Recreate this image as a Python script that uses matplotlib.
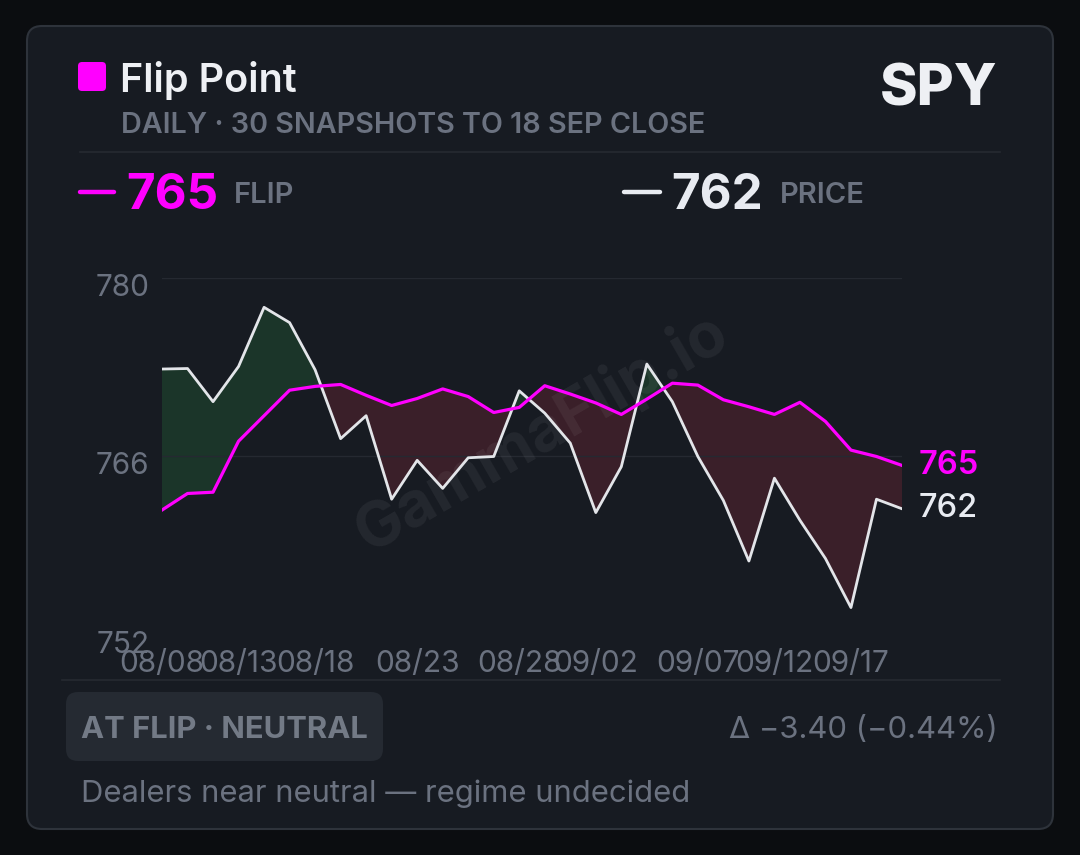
import matplotlib
matplotlib.use("Agg")
import matplotlib.pyplot as plt
import matplotlib.transforms as mtransforms
from matplotlib.patches import FancyBboxPatch
import numpy as np

plt.rcParams['font.family'] = ['Inter', 'DejaVu Sans']

# data (30 daily snapshots)
flip = [761.8, 763.1, 763.2, 767.2, 769.2, 771.2, 771.5, 771.65, 770.8, 770.0,
        770.55, 771.3, 770.7, 769.45, 769.85, 771.55, 770.9, 770.2, 769.3, 770.5,
        771.75, 771.6, 770.45, 769.9, 769.3, 770.25, 768.75, 766.5, 766.0, 765.3]
price = [772.86, 772.9, 770.3, 773.06, 777.7, 776.5, 772.8, 767.4, 769.2, 762.65,
         765.7, 763.5, 765.9, 766.0, 771.15, 769.4, 767.05, 761.6, 765.2, 773.25,
         770.3, 766.0, 762.55, 757.8, 764.3, 761.0, 758.0, 754.15, 762.65, 761.9]
tick_idx = [0, 3, 6, 10, 14, 17, 21, 24, 27]
tick_labels = ['08/08', '08/13', '08/18', '08/23', '08/28', '09/02', '09/07', '09/12', '09/17']
y_ticks = [752, 766, 780]

MAGENTA = '#ff00ff'
WHITE = '#e8ebf1'
GRAY = '#6b7280'
CARD = '#171b22'

W, H = 1080, 855
fig = plt.figure(figsize=(W / 100, H / 100), dpi=100, facecolor='#0b0d10')

# background layer in pixel coords (y down)
bg = fig.add_axes([0, 0, 1, 1], zorder=0)
bg.set_xlim(0, W)
bg.set_ylim(H, 0)
bg.axis('off')

card = FancyBboxPatch((27, 26), 1026, 803, boxstyle="round,pad=0,rounding_size=15",
                      facecolor=CARD, edgecolor='#2e333b', linewidth=1.5)
bg.add_patch(card)
bg.add_patch(FancyBboxPatch((78, 62), 28, 29, boxstyle="round,pad=0,rounding_size=4",
                            facecolor=MAGENTA, edgecolor='none'))

# header
bg.text(120, 92, 'Flip Point', color='#eef0f4', fontsize=28.5, fontweight='semibold', va='baseline')
bg.text(997, 106, 'SPY', color='#eef0f4', fontsize=41, fontweight='heavy', va='baseline', ha='right')
bg.text(121, 133, 'DAILY · 30 SNAPSHOTS TO 18 SEP CLOSE', color=GRAY, fontsize=20.7,
        fontweight='semibold', va='baseline')
bg.plot([80, 1000], [152, 152], color='#262a31', lw=1.2)

bg.plot([80, 114], [192, 192], color=MAGENTA, lw=3.2, solid_capstyle='round')
bg.text(126, 209, '765', color=MAGENTA, fontsize=35.5, fontweight='bold', va='baseline')
bg.text(234, 203, 'FLIP', color=GRAY, fontsize=21, fontweight='semibold', va='baseline')
bg.plot([624, 660], [192, 192], color=WHITE, lw=3.2, solid_capstyle='round')
bg.text(671, 209, '762', color=WHITE, fontsize=35.5, fontweight='bold', va='baseline')
bg.text(780, 203, 'PRICE', color=GRAY, fontsize=21, fontweight='semibold', va='baseline')

# footer
bg.plot([62, 1000], [680, 680], color='#262a31', lw=1.2)
bg.add_patch(FancyBboxPatch((66, 692), 317, 69, boxstyle="round,pad=0,rounding_size=12",
                            facecolor='#252a32', edgecolor='none'))
bg.text(81, 738, 'AT FLIP · NEUTRAL', color='#737a86', fontsize=22.3, fontweight='bold', va='baseline')
bg.text(998, 738, 'Δ −3.40 (−0.44%)', color=GRAY, fontsize=22.3, va='baseline', ha='right')
bg.text(81, 802, 'Dealers near neutral — regime undecided', color=GRAY, fontsize=22.3, va='baseline')

# chart
x = np.arange(len(flip))
fl = np.array(flip)
pr = np.array(price)
ax = fig.add_axes([162 / W, 1 - 635 / H, (902 - 162) / W, (635 - 278) / H], zorder=1)
ax.set_facecolor('none')
ax.fill_between(x, fl, pr, where=pr >= fl, interpolate=True, color='#1b3529', lw=0, zorder=1)
ax.fill_between(x, fl, pr, where=pr < fl, interpolate=True, color='#3a1f29', lw=0, zorder=1)
ax.plot(x, pr, color='#e3e5e9', lw=2.0, zorder=3)
ax.plot(x, fl, color=MAGENTA, lw=2.3, zorder=4)

ax.text(541, 433, 'GammaFlip.io', transform=bg.transData, rotation=30, fontsize=45,
        fontweight='bold', color='white', alpha=0.06, ha='center', va='center',
        zorder=2, clip_on=False)

ax.set_xlim(0, len(flip) - 1)
ax.set_ylim(752, 780)
ax.set_yticks(y_ticks)
ax.set_xticks(tick_idx)
ax.set_xticklabels(tick_labels)
ax.tick_params(length=0, labelsize=21.5, colors=GRAY, pad=11)
ax.tick_params(axis='y', pad=9)
# y labels sit a few px below their gridline in the reference
shift = mtransforms.ScaledTranslation(0, -5 / 72, fig.dpi_scale_trans)
for t in ax.get_yticklabels():
    t.set_transform(t.get_transform() + shift)
ax.grid(axis='y', color='#252931', lw=1)
ax.yaxis.get_gridlines()[0].set_visible(False)
for s in ax.spines.values():
    s.set_visible(False)

# end labels
ax.annotate('765', (x[-1], fl[-1]), xytext=(17, 0), textcoords='offset pixels',
            color=MAGENTA, fontsize=23.5, fontweight='semibold', va='center', annotation_clip=False)
ax.annotate('762', (x[-1], pr[-1]), xytext=(17, 0), textcoords='offset pixels',
            color=WHITE, fontsize=23.5, fontweight='medium', va='center', annotation_clip=False)

fig.savefig('out.png', dpi=100, facecolor=fig.get_facecolor())
